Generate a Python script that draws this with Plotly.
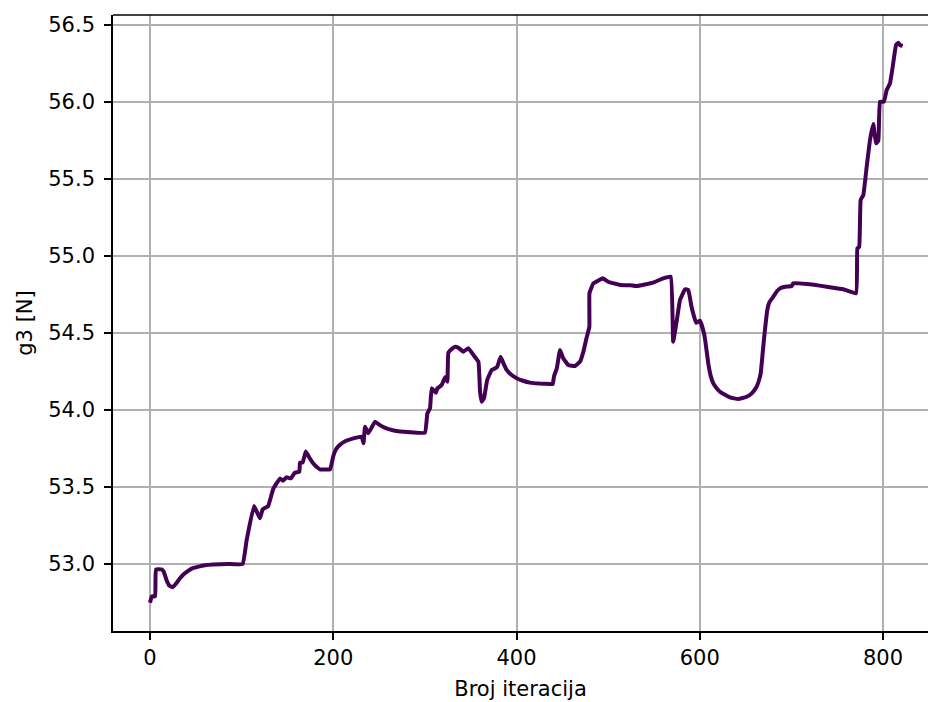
import plotly.graph_objects as go

iterations = [0, 2, 5.5, 6.5, 12.7, 15, 18, 21, 24.7, 28, 32.7, 37, 42, 46, 51, 60, 69, 85, 101,
              105.5, 113.5, 120, 123, 129,
              134.6, 142, 145, 149, 153.6, 158, 163, 163.7, 166.6, 170, 174, 178, 182, 185.5, 196.5,
              200, 203, 207, 214, 222, 231, 233, 234.7, 238.3, 245.6, 250, 258, 266, 276.5, 300,
              302.7, 305.6, 307.4, 312, 313.5,
              318.3, 322, 324.5, 325.6, 329, 332.7, 336.3, 342, 347.4, 353, 358.4, 360.2, 362, 364.5,
              368, 373, 376.5, 379, 382.7, 386, 389.3, 394, 400.2, 407, 414.7, 425, 436.5, 439.5,
              441, 444, 447.5, 451,
              456.5, 463.8, 469.3, 473, 476.6, 479.5, 479.6, 483.9, 487.5, 494, 500, 513, 524, 531,
              549, 560, 568.3, 571, 575, 578.4, 584, 587.5, 591, 596, 600.3, 604.6, 606, 609.3, 612,
              614.8, 618, 622, 627, 633, 642, 651.2, 657, 662, 664.5, 666.5, 670, 673.7, 676, 680.3,
              684, 687.6, 693, 700.3, 702, 716.7, 738.5,
              756.7, 770.5, 772, 774, 775.6, 778.5, 782.2, 785.8, 789.4, 792.3, 794.9, 796.7, 801,
              804, 807.6, 810.6, 814.2, 816.7, 818.5, 821.5]
g3_values = [52.749, 52.79, 52.79, 52.965, 52.965, 52.95, 52.896, 52.86, 52.849, 52.87, 52.907,
             52.935, 52.957, 52.972, 52.98, 52.992, 52.997, 53.0, 53.0,
             53.156, 53.377, 53.297, 53.355, 53.377, 53.49, 53.556, 53.541, 53.563, 53.556,
             53.593, 53.6, 53.658, 53.66, 53.73, 53.69, 53.654, 53.63, 53.615, 53.615,
             53.70, 53.745, 53.773, 53.80, 53.816, 53.827, 53.784, 53.892, 53.849, 53.924, 53.905,
             53.88, 53.867, 53.859, 53.853, 53.978, 54.011, 54.141, 54.112, 54.14,
             54.162, 54.212, 54.184, 54.372, 54.394, 54.41, 54.405, 54.379, 54.401,
             54.357, 54.314, 54.119, 54.054, 54.076, 54.195, 54.26, 54.27, 54.281, 54.346, 54.30,
             54.26, 54.23, 54.206, 54.19, 54.178, 54.172, 54.169, 54.169, 54.221, 54.271, 54.39,
             54.336, 54.292, 54.286, 54.314,
             54.379, 54.472, 54.541, 54.758, 54.823, 54.834, 54.855, 54.833, 54.812, 54.81, 54.805,
             54.827, 54.855, 54.866, 54.444, 54.584, 54.714, 54.784, 54.78, 54.67, 54.567, 54.58,
             54.498, 54.45, 54.303, 54.22, 54.173, 54.145, 54.119, 54.10, 54.082, 54.071, 54.086,
             54.11, 54.151, 54.19, 54.238, 54.455, 54.649, 54.70, 54.736, 54.77, 54.79, 54.80,
             54.805, 54.823, 54.818, 54.801, 54.784, 54.758, 55.05, 55.06, 55.364,
             55.396, 55.58, 55.753, 55.857, 55.732, 55.75, 56.002, 56.002, 56.078, 56.121, 56.229,
             56.37, 56.385, 56.37, 56.364]

x_ticks = [0, 200, 400, 600, 800]
y_ticks = [53.0, 53.5, 54.0, 54.5, 55.0, 55.5, 56.0, 56.5]

fig = go.Figure()
fig.add_trace(go.Scatter(x=iterations, y=g3_values, mode="lines",
                         line=dict(color="#440154", width=4, shape="spline", smoothing=0.3),
                         showlegend=False))

font = dict(family="DejaVu Sans", size=21, color="black")
fig.update_layout(
    width=928, height=702,
    margin=dict(l=113, r=0, t=15, b=71),
    paper_bgcolor="white", plot_bgcolor="white",
    font=font,
    xaxis=dict(range=[-40.4, 849.1], tickvals=x_ticks, ticktext=[str(v) for v in x_ticks],
               showgrid=True, gridcolor="#b0b0b0", gridwidth=1.6, zeroline=False,
               showline=True, linecolor="black", linewidth=1.6,
               ticks="outside", ticklen=7, tickwidth=1.6, tickcolor="black",
               title=dict(text="Broj iteracija", font=font, standoff=12)),
    yaxis=dict(range=[52.565, 56.565], tickvals=y_ticks, ticktext=[f"{v:.1f}" for v in y_ticks],
               showgrid=True, gridcolor="#b0b0b0", gridwidth=1.6, zeroline=False,
               showline=True, linecolor="black", linewidth=1.6,
               ticks="outside", ticklen=7, tickwidth=1.6, tickcolor="black",
               ticklabelstandoff=5,
               title=dict(text="g3 [N]", font=font, standoff=10)),
    shapes=[dict(type="line", xref="paper", yref="paper", x0=0, x1=1, y0=1, y1=1,
                 line=dict(color="black", width=1.6))],
)
fig.write_html("out.html", config={"displayModeBar": False})

with open("out.html", encoding="utf-8") as f:
    html = f.read()
html = html.replace("<head>", "<head><style>html,body{margin:0;padding:0;overflow:hidden;}</style>", 1)
with open("out.html", "w", encoding="utf-8") as f:
    f.write(html)
